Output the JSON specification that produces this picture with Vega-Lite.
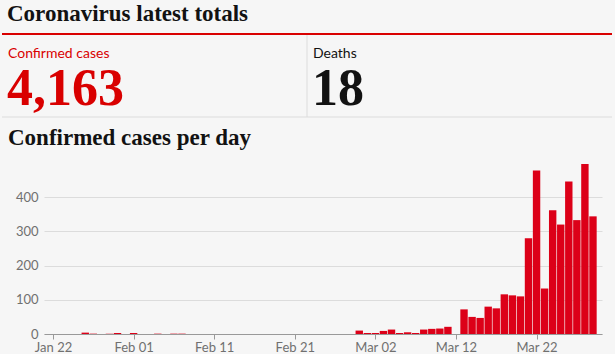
{
  "$schema": "https://vega.github.io/schema/vega-lite/v6.json",
  "background": "#f6f6f6",
  "padding": {"left": 1, "top": 3, "right": 2, "bottom": 0},
  "spacing": 9,
  "config": {
    "view": {"stroke": null},
    "font": "Lato",
    "title": {"font": "Liberation Serif", "fontSize": 23, "fontWeight": "bold", "color": "#121212", "anchor": "start", "frame": "bounds", "dx": 6}
  },
  "vconcat": [
    {
      "title": {"text": "Coronavirus latest totals", "offset": 7},
      "width": 568,
      "height": 83,
      "data": {"values": [
        {"metric": "Confirmed cases", "total": "4,163"},
        {"metric": "Deaths", "total": "18"}
      ]},
      "resolve": {"scale": {"x": "independent"}},
      "layer": [
        {
          "data": {"values": [{"line": "bottom"}]},
          "mark": {"type": "rule", "color": "#dcdcdc", "strokeWidth": 1},
          "encoding": {
            "x": {"datum": 0, "type": "quantitative", "scale": {"domain": [0, 1], "range": [-42, 568]}, "axis": null},
            "x2": {"datum": 1},
            "y": {"datum": 83, "type": "quantitative", "scale": {"domain": [0, 83], "reverse": true}, "axis": null}
          }
        },
        {
          "data": {"values": [{"line": "divider"}]},
          "mark": {"type": "rule", "color": "#dcdcdc", "strokeWidth": 1},
          "encoding": {
            "x": {"datum": 0.5, "type": "quantitative", "scale": {"domain": [0, 1], "range": [-42, 568]}, "axis": null},
            "y": {"datum": 0, "type": "quantitative", "scale": {"domain": [0, 83], "reverse": true}, "axis": null},
            "y2": {"datum": 83}
          }
        },
        {
          "data": {"values": [{"line": "top"}]},
          "mark": {"type": "rule", "color": "#d90000", "strokeWidth": 2},
          "encoding": {
            "x": {"datum": 0, "type": "quantitative", "scale": {"domain": [0, 1], "range": [-42, 568]}, "axis": null},
            "x2": {"datum": 1},
            "y": {"datum": 0, "type": "quantitative", "scale": {"domain": [0, 83], "reverse": true}, "axis": null}
          }
        },
        {
          "mark": {"type": "text", "align": "left", "baseline": "alphabetic", "font": "Lato", "fontSize": 14, "dx": 6},
          "encoding": {
            "x": {"field": "metric", "type": "nominal", "scale": {"type": "point", "padding": 0, "range": [-42, 263]}, "axis": null},
            "y": {"datum": 23.5, "type": "quantitative", "scale": {"domain": [0, 83], "reverse": true}, "axis": null},
            "text": {"field": "metric"},
            "color": {"field": "metric", "type": "nominal", "scale": {"domain": ["Confirmed cases", "Deaths"], "range": ["#d90000", "#121212"]}, "legend": null}
          }
        },
        {
          "mark": {"type": "text", "align": "left", "baseline": "alphabetic", "font": "Liberation Serif", "fontWeight": "bold", "fontSize": 52, "dx": 5},
          "encoding": {
            "x": {"field": "metric", "type": "nominal", "scale": {"type": "point", "padding": 0, "range": [-42, 263]}, "axis": null},
            "y": {"datum": 71, "type": "quantitative", "scale": {"domain": [0, 83], "reverse": true}, "axis": null},
            "text": {"field": "total"},
            "color": {"field": "metric", "type": "nominal", "scale": {"domain": ["Confirmed cases", "Deaths"], "range": ["#d90000", "#121212"]}, "legend": null}
          }
        }
      ]
    },
    {
      "title": {"text": "Confirmed cases per day", "offset": 13},
      "width": 558,
      "height": 171,
      "data": {"values": [
        {"date": "2020-01-22", "cases": 0},
        {"date": "2020-01-23", "cases": 0},
        {"date": "2020-01-24", "cases": 0},
        {"date": "2020-01-25", "cases": 0},
        {"date": "2020-01-26", "cases": 4},
        {"date": "2020-01-27", "cases": 1},
        {"date": "2020-01-28", "cases": 0},
        {"date": "2020-01-29", "cases": 1},
        {"date": "2020-01-30", "cases": 3},
        {"date": "2020-01-31", "cases": 0},
        {"date": "2020-02-01", "cases": 3},
        {"date": "2020-02-02", "cases": 0},
        {"date": "2020-02-03", "cases": 0},
        {"date": "2020-02-04", "cases": 1},
        {"date": "2020-02-05", "cases": 0},
        {"date": "2020-02-06", "cases": 1},
        {"date": "2020-02-07", "cases": 1},
        {"date": "2020-02-08", "cases": 0},
        {"date": "2020-02-09", "cases": 0},
        {"date": "2020-02-10", "cases": 0},
        {"date": "2020-02-11", "cases": 0},
        {"date": "2020-02-12", "cases": 0},
        {"date": "2020-02-13", "cases": 0},
        {"date": "2020-02-14", "cases": 0},
        {"date": "2020-02-15", "cases": 0},
        {"date": "2020-02-16", "cases": 0},
        {"date": "2020-02-17", "cases": 0},
        {"date": "2020-02-18", "cases": 0},
        {"date": "2020-02-19", "cases": 0},
        {"date": "2020-02-20", "cases": 0},
        {"date": "2020-02-21", "cases": 0},
        {"date": "2020-02-22", "cases": 0},
        {"date": "2020-02-23", "cases": 0},
        {"date": "2020-02-24", "cases": 0},
        {"date": "2020-02-25", "cases": 0},
        {"date": "2020-02-26", "cases": 0},
        {"date": "2020-02-27", "cases": 0},
        {"date": "2020-02-28", "cases": 0},
        {"date": "2020-02-29", "cases": 10},
        {"date": "2020-03-01", "cases": 3},
        {"date": "2020-03-02", "cases": 3},
        {"date": "2020-03-03", "cases": 9},
        {"date": "2020-03-04", "cases": 13},
        {"date": "2020-03-05", "cases": 3},
        {"date": "2020-03-06", "cases": 5},
        {"date": "2020-03-07", "cases": 3},
        {"date": "2020-03-08", "cases": 13},
        {"date": "2020-03-09", "cases": 15},
        {"date": "2020-03-10", "cases": 16},
        {"date": "2020-03-11", "cases": 21},
        {"date": "2020-03-12", "cases": 0},
        {"date": "2020-03-13", "cases": 72},
        {"date": "2020-03-14", "cases": 50},
        {"date": "2020-03-15", "cases": 47},
        {"date": "2020-03-16", "cases": 80},
        {"date": "2020-03-17", "cases": 75},
        {"date": "2020-03-18", "cases": 116},
        {"date": "2020-03-19", "cases": 113},
        {"date": "2020-03-20", "cases": 110},
        {"date": "2020-03-21", "cases": 280},
        {"date": "2020-03-22", "cases": 478},
        {"date": "2020-03-23", "cases": 133},
        {"date": "2020-03-24", "cases": 362},
        {"date": "2020-03-25", "cases": 320},
        {"date": "2020-03-26", "cases": 446},
        {"date": "2020-03-27", "cases": 333},
        {"date": "2020-03-28", "cases": 497},
        {"date": "2020-03-29", "cases": 344}
      ]},
      "mark": {"type": "bar", "size": 7.4, "color": "#dc0018"},
      "encoding": {
        "x": {
          "field": "date", "type": "temporal",
          "scale": {"type": "utc", "domain": [
            {"year": 2020, "month": 1, "date": 21, "hours": 12, "utc": true},
            {"year": 2020, "month": 3, "date": 29, "hours": 12, "utc": true}
          ]},
          "axis": {
            "title": null, "grid": false,
            "labelExpr": "utcFormat(datum.value, '%b %d')",
            "values": [
              {"year": 2020, "month": 1, "date": 22, "utc": true},
              {"year": 2020, "month": 2, "date": 1, "utc": true},
              {"year": 2020, "month": 2, "date": 11, "utc": true},
              {"year": 2020, "month": 2, "date": 21, "utc": true},
              {"year": 2020, "month": 3, "date": 2, "utc": true},
              {"year": 2020, "month": 3, "date": 12, "utc": true},
              {"year": 2020, "month": 3, "date": 22, "utc": true}
            ],
            "domainColor": "#999999", "tickColor": "#999999", "tickSize": 5,
            "labelColor": "#707070", "labelFont": "Lato", "labelFontSize": 13, "labelPadding": 2,
            "labelFlush": false, "labelOverlap": false
          }
        },
        "y": {
          "field": "cases", "type": "quantitative",
          "scale": {"domain": [0, 500], "nice": false},
          "axis": {
            "title": null, "values": [0, 100, 200, 300, 400], "domain": false, "ticks": false,
            "gridColor": "#dcdcdc", "labelColor": "#707070", "labelFont": "Lato", "labelFontSize": 13,
            "labelPadding": 6, "minExtent": 42, "maxExtent": 42
          }
        }
      }
    }
  ]
}
